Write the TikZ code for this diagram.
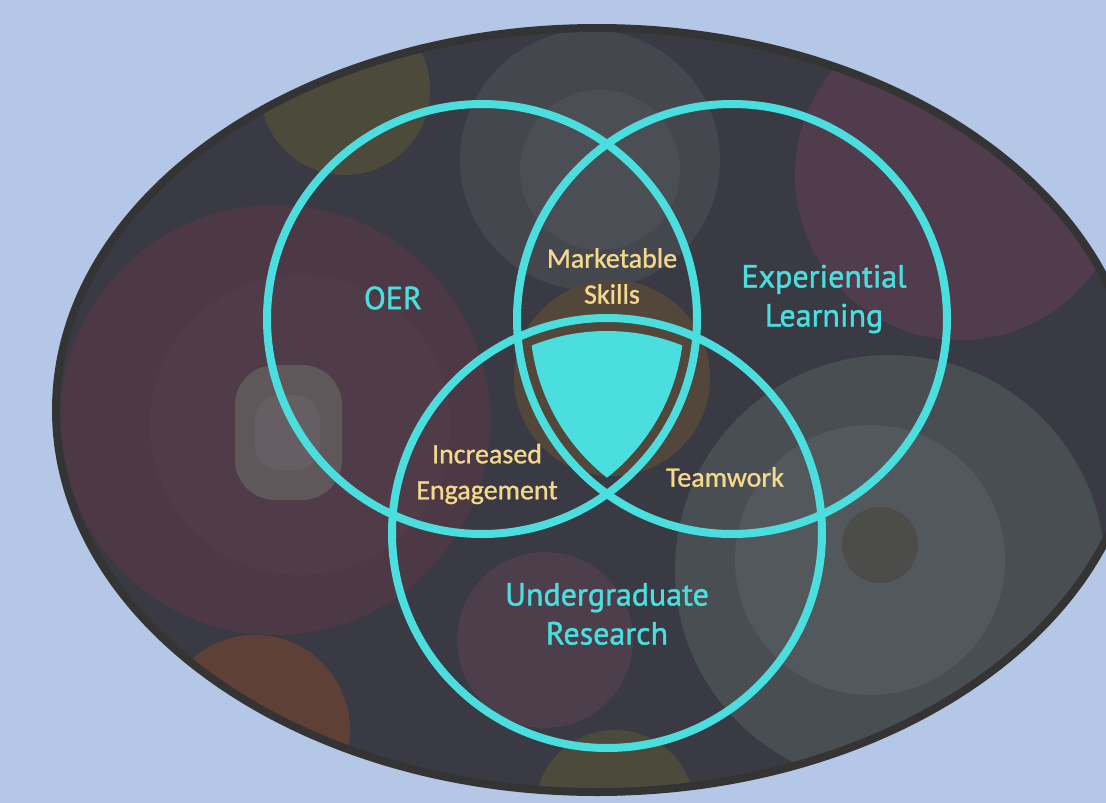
\documentclass[tikz,border=0pt]{standalone}
\usepackage{fontspec}
\newfontfamily\labfont[FakeBold=1.3]{PT Sans}
\newfontfamily\subfont[FakeBold=1.0]{Carlito}
\definecolor{bgblue}{RGB}{180,199,231}
\definecolor{rimc}{RGB}{52,52,52}
\definecolor{basec}{RGB}{58,58,68}
\definecolor{venn}{RGB}{75,222,222}
\definecolor{goldtxt}{RGB}{245,216,140}
\definecolor{maroon1}{RGB}{86,56,70}
\definecolor{maroon2}{RGB}{92,62,82}
\definecolor{greyb}{RGB}{74,77,84}
\definecolor{greyc}{RGB}{80,88,90}
\definecolor{oliveb}{RGB}{84,82,56}
\definecolor{brownb}{RGB}{94,76,56}
\definecolor{beigeb}{RGB}{112,100,100}
\definecolor{purpb}{RGB}{86,64,80}
\tikzset{
  ring/.style={draw=venn, line width=8pt},
  mainlab/.style={text=venn, font=\labfont\fontsize{32}{39}\selectfont, align=center},
  sublab/.style={text=goldtxt, font=\subfont\fontsize{28}{36}\selectfont, align=center}
}
\begin{document}
\begin{tikzpicture}[x=1pt,y=-1pt]
\fill[bgblue] (0,0) rectangle (1106,803);
\useasboundingbox (0,0) rectangle (1106,803);
% base ellipse
\fill[basec] (597,410) ellipse [x radius=541pt, y radius=382pt];
\begin{scope}
\clip (597,410) ellipse [x radius=541pt, y radius=382pt];
\fill[maroon1] (275,420) circle (215pt);
\fill[maroon1!90!white, opacity=0.25] (300,425) circle (150pt);
\fill[beigeb, rounded corners=40pt] (235,365) rectangle (342,500);
\fill[beigeb!75!white, opacity=0.3, rounded corners=25pt] (255,395) rectangle (320,470);
\fill[maroon2] (960,175) circle (165pt);
\fill[greyc] (890,570) circle (215pt);
\fill[greyc!92!white] (870,560) circle (135pt);
\fill[brownb!35!greyc] (880,545) circle (38pt);
\fill[greyb] (590,160) circle (130pt);
\fill[greyb!94!white] (600,170) circle (80pt);
\fill[oliveb] (345,90) circle (85pt);
\fill[brownb] (612,378) circle (98pt);
\fill[purpb] (545,640) circle (88pt);
\fill[brownb!90!red] (255,730) circle (95pt);
\fill[oliveb] (615,810) circle (80pt);
\fill[basec, opacity=0.3] (597,410) ellipse [x radius=541pt, y radius=382pt];
\end{scope}
\draw[rimc, line width=8pt] (597,410) ellipse [x radius=541pt, y radius=382pt];
% circle centres
\coordinate (cO) at (482,319);
\coordinate (cE) at (732,319);
\coordinate (cU) at (607,533);
% inner filled region
\begin{scope}
\clip (cO) circle (202pt);
\clip (cE) circle (202pt);
\fill[venn] (cU) circle (202pt);
\end{scope}
% rings
\draw[ring] (cO) circle (215pt);
\draw[ring] (cE) circle (215pt);
\draw[ring] (cU) circle (215pt);
% labels
\node[mainlab] (oer) at (393,298) {OER};
\node[mainlab] (exp) at (824,299) {Experiential\\Learning};
\node[mainlab] (ur) at (607,614) {Undergraduate\\Research};
\node[sublab] (ms) at (612,276) {Marketable\\Skills};
\node[sublab] (ie) at (487,474) {Increased\\Engagement};
\node[sublab] (tw) at (725,477) {Teamwork};
\end{tikzpicture}
\end{document}
